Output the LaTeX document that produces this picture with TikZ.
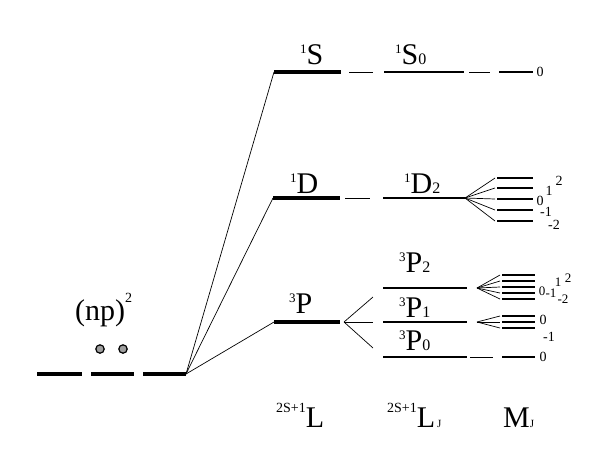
\documentclass[tikz,border=0pt]{standalone}
\usepackage{fontspec}
\setmainfont{Liberation Serif}
\usetikzlibrary{positioning, calc}
\newcommand{\upsc}[1]{\raisebox{11pt}{\fontsize{13}{13}\selectfont #1}}
\newcommand{\dnsc}[1]{{\fontsize{16}{16}\selectfont #1}}
\newcommand{\termsc}[1]{\raisebox{15pt}{\fontsize{14}{14}\selectfont #1}}
\tikzset{
  thicklev/.style={line width=3.6pt},
  finelev/.style={line width=2.2pt},
  mlev/.style={line width=2.6pt},
  link/.style={line width=0.7pt},
  lbl/.style={inner sep=0pt, anchor=base west, font=\fontsize{30}{30}\selectfont},
  mjl/.style={inner sep=0pt, font=\fontsize{14}{14}\selectfont},
  mjs/.style={inner sep=0pt, font=\fontsize{13}{10}\selectfont, anchor=base}
}

\begin{document}
\begin{tikzpicture}[x=1pt,y=-1pt]
  \useasboundingbox (0,0) rectangle (604,472);

  % Ground configuration
  \coordinate (g1-l) at (37,374);  \coordinate (g1-r) at (82,374);
  \coordinate (g2-l) at (91,374);  \coordinate (g2-r) at (134,374);
  \coordinate (g3-l) at (143,374); \coordinate (g3-r) at (186,374);
  \draw[thicklev] (g1-l) -- (g1-r);
  \draw[thicklev] (g2-l) -- (g2-r);
  \draw[thicklev] (g3-l) -- (g3-r);
  \filldraw[fill=gray!75, line width=1.2pt] (100,349) circle (4.2pt);
  \filldraw[fill=gray!75, line width=1.2pt] (123,349) circle (4.2pt);
  \node[lbl] (np) at (75,320) {(np)\raisebox{18pt}{\fontsize{14}{14}\selectfont 2}};

  % Terms
  \coordinate (S-l) at (274,72);  \coordinate (S-r) at (341,72);
  \coordinate (D-l) at (273,198); \coordinate (D-r) at (340,198);
  \coordinate (P-l) at (274,322); \coordinate (P-r) at (340,322);
  \draw[thicklev] (S-l) -- (S-r);
  \draw[thicklev] (D-l) -- (D-r);
  \draw[thicklev] (P-l) -- (P-r);
  \draw[link] (g3-r) -- (S-l);
  \draw[link] (g3-r) -- (D-l);
  \draw[link] (g3-r) -- (P-l);
  \node[lbl] (S) at (300,64) {\upsc{1}S};
  \node[lbl] (D) at (290,193) {\upsc{1}D};
  \node[lbl] (P) at (289,313) {\upsc{3}P};

  % Levels
  \coordinate (SJ-l) at (384,72);  \coordinate (SJ-r) at (464,72);
  \coordinate (DJ-l) at (383,198); \coordinate (DJ-r) at (465,198);
  \draw[finelev] (SJ-l) -- (SJ-r);
  \draw[finelev] (DJ-l) -- (DJ-r);
  \draw[link] (349,72) -- (373,72);
  \draw[link] (345,198) -- (370,198);
  \node[lbl] (SJ) at (395,64) {\upsc{1}S\dnsc{0}};
  \node[lbl] (DJ) at (404,193) {\upsc{1}D\dnsc{2}};

  \coordinate (P2-l) at (383,288); \coordinate (P2-r) at (467,288);
  \coordinate (P1-l) at (383,322); \coordinate (P1-r) at (467,322);
  \coordinate (P0-l) at (383,357); \coordinate (P0-r) at (467,357);
  \draw[finelev] (P2-l) -- (P2-r);
  \draw[finelev] (P1-l) -- (P1-r);
  \draw[finelev] (P0-l) -- (P0-r);
  \coordinate (Pfan) at (344,322);
  \draw[link] (Pfan) -- (373,297);
  \draw[link] (Pfan) -- (373,322);
  \draw[link] (Pfan) -- (373,348);
  \node[lbl] (P2) at (399,272) {\upsc{3}P\dnsc{2}};
  \node[lbl] (P1) at (399,317) {\upsc{3}P\dnsc{1}};
  \node[lbl] (P0) at (399,350) {\upsc{3}P\dnsc{0}};

  % M_J sublevels
  \coordinate (m0-l) at (499,72); \coordinate (m0-r) at (533,72);
  \draw[mlev] (m0-l) -- (m0-r);
  \draw[link] (469,72) -- (490,72);
  \node[mjl] (m0) at (540,72) {0};

  \foreach \y [count=\i] in {178,188,199,210,221} {
    \coordinate (d\i-l) at (497,\y); \coordinate (d\i-r) at (533,\y);
    \draw[mlev] (d\i-l) -- (d\i-r);
    \draw[link] (DJ-r) -- ($(d\i-l)+(-2,0)$);
  }
  \node[mjl] (dm2) at (559,181) {2};
  \node[mjl] (dm1) at (549,191) {1};
  \node[mjl] (d0)  at (540,201) {0};
  \node[mjl] (dn1) at (546,212) {-1};
  \node[mjl] (dn2) at (554,225) {-2};

  \foreach \y [count=\i] in {275,281,287,293,299} {
    \coordinate (a\i-l) at (502,\y); \coordinate (a\i-r) at (535,\y);
    \draw[mlev] (a\i-l) -- (a\i-r);
    \draw[link] (477,288) -- ($(a\i-l)+(-2,0)$);
  }
  \node[mjs] (am2) at (568,282) {2};
  \node[mjs] (am1) at (558,286) {1};
  \node[mjs] (a0)  at (542,295) {0};
  \node[mjs] (an1) at (551,297) {-1};
  \node[mjs] (an2) at (563,303) {-2};

  \foreach \y [count=\i] in {316,322,328} {
    \coordinate (b\i-l) at (502,\y); \coordinate (b\i-r) at (535,\y);
    \draw[mlev] (b\i-l) -- (b\i-r);
    \draw[link] (477,322) -- ($(b\i-l)+(-2,0)$);
  }
  \node[mjl] (b0)  at (543,320) {0};
  \node[mjl] (bn1) at (549,337) {-1};

  \coordinate (c0-l) at (502,357); \coordinate (c0-r) at (535,357);
  \draw[mlev] (c0-l) -- (c0-r);
  \draw[link] (470,357) -- (493,357);
  \node[mjl] (c0) at (543,357) {0};

  % Column headings
  \node[lbl] (L)  at (276,427) {\termsc{2S+1}L};
  \node[lbl] (LJ) at (387,427) {\termsc{2S+1}L\hspace{2pt}{\fontsize{11}{11}\selectfont J}};
  \node[lbl] (MJ) at (503,427) {M{\fontsize{11}{11}\selectfont J}};
\end{tikzpicture}
\end{document}
